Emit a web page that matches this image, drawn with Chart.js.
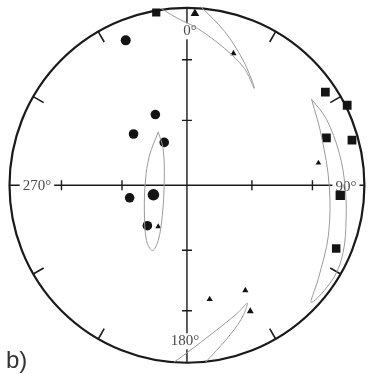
<!DOCTYPE html>
<html>
<head>
<meta charset="UTF-8">
<title>Stereonet b)</title>
<script src="https://cdn.jsdelivr.net/npm/chart.js"></script>
<style>
  body { margin: 0; background: #fff; }
  #net { display: block; }
</style>
</head>
<body>
<canvas id="net" width="371" height="374"></canvas>
<script>
// net coordinates: x east, y north, radius of the primitive = 100
var circles = [[-34.5, 81.1], [-17.8, 39.6], [-30.1, 28.7], [-12.8, 24.0], [-32.3, -7.0], [-18.9, -5.3], [-22.3, -22.6]];
var squares = [[-17.3, 96.7], [78.0, 52.1], [90.3, 44.8], [78.6, 26.5], [93.0, 25.3], [86.4, -5.6], [84.1, -35.4]];
var triangles = [[4.5, 96.1], [26.2, 73.8], [74.1, 12.5], [-16.2, -23.1], [12.8, -63.8], [32.9, -58.8], [35.7, -70.5]];

// confidence cones (gray outlines)
var coneTop = [[-14.5, 98.9], [-5.0, 93.3], [6.1, 87.7], [21.2, 76.6], [32.3, 65.5], [37.9, 54.3],
               [36.8, 58.2], [31.2, 70.8], [21.2, 86.1], [7.8, 100.0]];
var coneBottom = [[-7.2, -98.9], [0.6, -93.3], [14.5, -82.7], [28.4, -71.6], [34.0, -66.0],
                  [30.6, -74.9], [22.3, -86.1], [10.6, -98.9]];
var coneRight = [[70.2, 48.2], [75.8, 27.6], [80.2, -0.3], [79.7, -28.1], [74.1, -52.1], [70.2, -65.5],
                 [82.5, -52.1], [88.0, -37.6], [89.7, -18.7], [89.1, -0.3], [85.8, 18.1], [78.6, 37.0], [70.2, 48.2]];
var coneCenter = [[-16.2, 29.8], [-13.4, 20.3], [-12.8, 2.5], [-13.9, -17.0], [-16.2, -30.9], [-19.5, -36.5],
                  [-22.8, -30.9], [-24.0, -14.2], [-23.4, 2.5], [-21.2, 16.4], [-16.2, 29.8]];

var azimuthTicks = [30, 60, 120, 150, 210, 240, 300, 330];
var plungeTicks = [30, 60];
var axisLabels = ['0°', '90°', '180°', '270°'];

function pts(a) { return a.map(function (p) { return { x: p[0], y: p[1] }; }); }

function cone(a) {
  return { type: 'scatter', data: pts(a), showLine: true, tension: 0.35, borderColor: '#9a9a9a',
           borderWidth: 1, pointRadius: 0, fill: false };
}

// frame of the equal-area net
var netFrame = {
  id: 'netFrame',
  beforeDatasetsDraw: function (chart) {
    var ctx = chart.ctx, xs = chart.scales.x, ys = chart.scales.y;
    var cx = xs.getPixelForValue(0), cy = ys.getPixelForValue(0);
    var R = xs.getPixelForValue(100) - cx;
    ctx.save();
    ctx.strokeStyle = '#1a1a1a';
    ctx.lineWidth = 2.2;
    ctx.beginPath();
    ctx.arc(cx, cy, R, 0, Math.PI * 2);
    ctx.stroke();

    // azimuth ticks on the primitive
    ctx.lineWidth = 1.6;
    azimuthTicks.forEach(function (az) {
      var a = az * Math.PI / 180;
      ctx.beginPath();
      ctx.moveTo(cx + R * Math.sin(a), cy - R * Math.cos(a));
      ctx.lineTo(cx + (R - 12) * Math.sin(a), cy - (R - 12) * Math.cos(a));
      ctx.stroke();
    });

    // axes
    ctx.lineWidth = 1.4;
    ctx.beginPath();
    ctx.moveTo(cx - R, cy); ctx.lineTo(cx + R, cy);
    ctx.moveTo(cx, cy - R); ctx.lineTo(cx, cy + R);
    ctx.stroke();

    // plunge ticks along the axes
    plungeTicks.forEach(function (p) {
      var r = R * Math.SQRT2 * Math.sin((90 - p) / 2 * Math.PI / 180);
      ctx.beginPath();
      ctx.moveTo(cx + r, cy - 5); ctx.lineTo(cx + r, cy + 5);
      ctx.moveTo(cx - r, cy - 5); ctx.lineTo(cx - r, cy + 5);
      ctx.moveTo(cx - 5, cy + r); ctx.lineTo(cx + 5, cy + r);
      ctx.moveTo(cx - 5, cy - r); ctx.lineTo(cx + 5, cy - r);
      ctx.stroke();
    });

    // axis labels
    ctx.font = '15px "Liberation Serif", "DejaVu Serif", serif';
    ctx.textAlign = 'center';
    ctx.textBaseline = 'middle';
    var spots = [[cx + 3, cy - 154], [cx + 159, cy + 2], [cx - 2, cy + 156], [cx - 150, cy + 1]];
    axisLabels.forEach(function (t, i) {
      var w = ctx.measureText(t).width;
      ctx.fillStyle = '#fff';
      ctx.fillRect(spots[i][0] - w / 2 - 3, spots[i][1] - 8, w + 6, 16);
      ctx.fillStyle = '#4a4a4a';
      ctx.fillText(t, spots[i][0], spots[i][1]);
    });

    // panel letter
    ctx.font = '24px "Liberation Sans", Arial, sans-serif';
    ctx.textAlign = 'left';
    ctx.textBaseline = 'alphabetic';
    ctx.fillStyle = '#333';
    ctx.fillText('b)', 6, 368);
    ctx.restore();
  }
};

new Chart(document.getElementById('net'), {
  type: 'scatter',
  data: {
    datasets: [
      cone(coneTop), cone(coneBottom), cone(coneRight), cone(coneCenter),
      { data: pts(circles), pointStyle: 'circle', pointRadius: [5, 4.8, 4.8, 4.8, 4.8, 5.8, 4.8],
        backgroundColor: '#141414', borderColor: '#141414', borderWidth: 0 },
      { data: pts(squares), pointStyle: 'rect', pointRadius: [5.8, 6.2, 6.2, 6.2, 6.2, 6.6, 6],
        backgroundColor: '#141414', borderColor: '#141414', borderWidth: 0 },
      { data: pts(triangles), pointStyle: 'triangle', pointRadius: [5, 3.6, 3.3, 3.3, 3.6, 3.6, 4],
        backgroundColor: '#141414', borderColor: '#141414', borderWidth: 0 }
    ]
  },
  options: {
    responsive: false,
    animation: false,
    devicePixelRatio: 1,
    layout: { padding: { left: 9.5, right: 2.5, top: 5, bottom: 10 } },
    plugins: { legend: { display: false }, tooltip: { enabled: false } },
    scales: {
      x: { type: 'linear', min: -100, max: 100, display: false },
      y: { type: 'linear', min: -100, max: 100, display: false }
    }
  },
  plugins: [netFrame]
});
</script>
</body>
</html>
